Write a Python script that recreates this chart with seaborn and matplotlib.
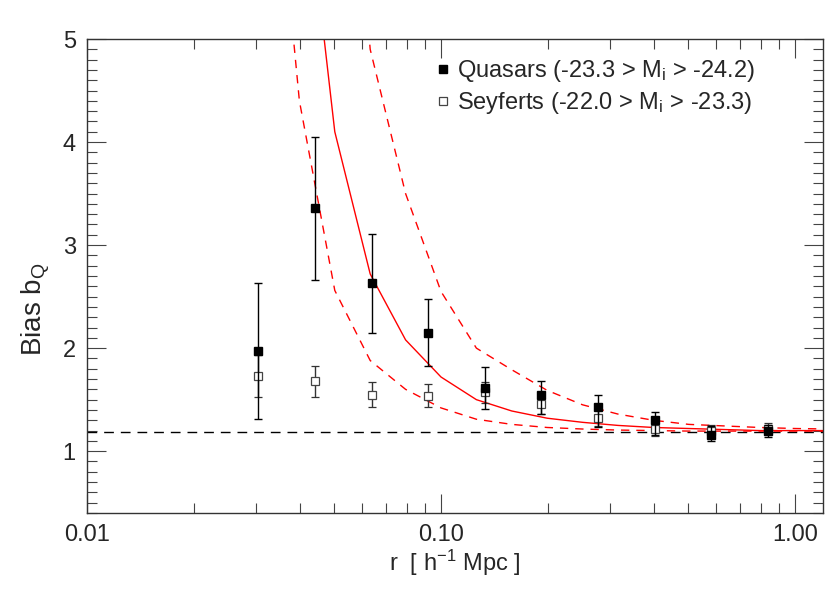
import numpy as np
import pandas as pd
import matplotlib
matplotlib.use('Agg')
import matplotlib.pyplot as plt
import seaborn as sns
from matplotlib.ticker import FixedLocator, FixedFormatter, MultipleLocator, LogLocator, NullFormatter

# data points
r_bins = [0.0304, 0.0441, 0.0638, 0.0919, 0.133, 0.192, 0.278, 0.402, 0.580, 0.840]

qso_b = [1.97, 3.36, 2.63, 2.15, 1.615, 1.55, 1.43, 1.30, 1.16, 1.20]
qso_up = [2.63, 4.05, 3.11, 2.48, 1.82, 1.68, 1.55, 1.38, 1.24, 1.25]
qso_lo = [1.31, 2.66, 2.15, 1.83, 1.41, 1.36, 1.23, 1.16, 1.10, 1.14]

sey_b = [1.73, 1.68, 1.55, 1.54, 1.57, 1.46, 1.32, 1.22, 1.20, 1.22]
sey_up = [1.93, 1.83, 1.67, 1.65, 1.67, 1.56, 1.40, 1.29, 1.25, 1.27]
sey_lo = [1.53, 1.53, 1.43, 1.43, 1.47, 1.36, 1.24, 1.15, 1.15, 1.17]

# model curves
model_logr = [-1.5, -1.4, -1.3, -1.2, -1.1, -1.0, -0.9, -0.8, -0.7, -0.6, -0.5, -0.4, -0.3, -0.2, -0.1, 0.0, 0.1]
model_mid = [12.0, 7.1, 4.10, 2.72, 2.08, 1.72, 1.50, 1.39, 1.32, 1.28, 1.25, 1.23, 1.22, 1.21, 1.20, 1.20, 1.20]
model_low = [8.0, 4.4, 2.56, 1.88, 1.60, 1.42, 1.31, 1.26, 1.23, 1.215, 1.205, 1.20, 1.195, 1.195, 1.195, 1.195, 1.195]
model_high = [20.0, 14.0, 9.0, 4.9, 3.5, 2.55, 2.0, 1.79, 1.59, 1.45, 1.36, 1.30, 1.26, 1.245, 1.23, 1.22, 1.215]

b_large = 1.19

sns.set_theme(style='ticks')
plt.rcParams['font.family'] = ['Liberation Sans', 'DejaVu Sans']
plt.rcParams['mathtext.fontset'] = 'custom'
plt.rcParams['mathtext.rm'] = 'Liberation Sans'
plt.rcParams['mathtext.it'] = 'Liberation Sans'

fig = plt.figure(figsize=(8.3, 5.93), dpi=100)
ax = fig.add_axes([0.1048, 0.1349, 0.8868, 0.7993])

models = pd.DataFrame({
    'r': np.power(10.0, model_logr),
    'mid': model_mid, 'low': model_low, 'high': model_high,
})
sns.lineplot(data=models, x='r', y='mid', ax=ax, color='red', lw=1.0, sort=False)
sns.lineplot(data=models, x='r', y='low', ax=ax, color='red', lw=1.0, sort=False)
ax.lines[-1].set_dashes([6, 5])
sns.lineplot(data=models, x='r', y='high', ax=ax, color='red', lw=1.0, sort=False)
ax.lines[-1].set_dashes([6, 5])

ax.axhline(b_large, color='black', lw=1.0, dashes=(7, 5), zorder=1)

qso_b = np.array(qso_b)
sey_b = np.array(sey_b)
ax.errorbar(r_bins, sey_b, yerr=[sey_b - np.array(sey_lo), np.array(sey_up) - sey_b],
            fmt='s', mfc='white', mec='#444444', ms=5.5, mew=0.9, ecolor='#333333',
            elinewidth=1.0, capsize=3, capthick=1.0, zorder=3)
ax.errorbar(r_bins, qso_b, yerr=[qso_b - np.array(qso_lo), np.array(qso_up) - qso_b],
            fmt='s', mfc='black', mec='black', ms=6, ecolor='black',
            elinewidth=1.0, capsize=3, capthick=1.0, zorder=4)

ax.set_xscale('log')
ax.set_xlim(0.01, 1.2)
ax.set_ylim(0.4, 5.0)

ax.xaxis.set_major_locator(FixedLocator([0.01, 0.1, 1.0]))
ax.xaxis.set_major_formatter(FixedFormatter(['0.01', '0.10', '1.00']))
ax.xaxis.set_minor_locator(LogLocator(base=10, subs=np.arange(2, 10)))
ax.xaxis.set_minor_formatter(NullFormatter())
ax.yaxis.set_major_locator(FixedLocator([1, 2, 3, 4, 5]))
ax.yaxis.set_minor_locator(MultipleLocator(0.1))

ax.tick_params(which='both', direction='in', top=True, right=True, color='#444444', width=0.8)
ax.tick_params(which='major', length=14, labelsize=17, pad=8)
ax.tick_params(which='minor', length=7)
for s in ax.spines.values():
    s.set_color('#333333')
    s.set_linewidth(1.0)

ax.set_xlabel(r'r  [ h$^{-1}$ Mpc ]', fontsize=17, labelpad=1)
ax.set_ylabel(r'Bias b$_{\rm Q}$', fontsize=20, labelpad=4)
ax.yaxis.set_label_coords(-0.047, 0.43)

ax.plot([], [], 's', color='black', ms=6, label=r'Quasars (-23.3 > M$_{\rm i}$ > -24.2)')
ax.plot([], [], 's', mfc='white', mec='#444444', ms=5.5, mew=0.9, label=r'Seyferts (-22.0 > M$_{\rm i}$ > -23.3)')
handles, labels = ax.get_legend_handles_labels()
ax.legend(handles[-2:], labels[-2:], loc='upper right', frameon=False, fontsize=17,
          handlelength=0.5, handletextpad=0.35, labelspacing=0.25, borderaxespad=0.4,
          bbox_to_anchor=(0.933, 1.0))

fig.savefig('out.png', dpi=100)
